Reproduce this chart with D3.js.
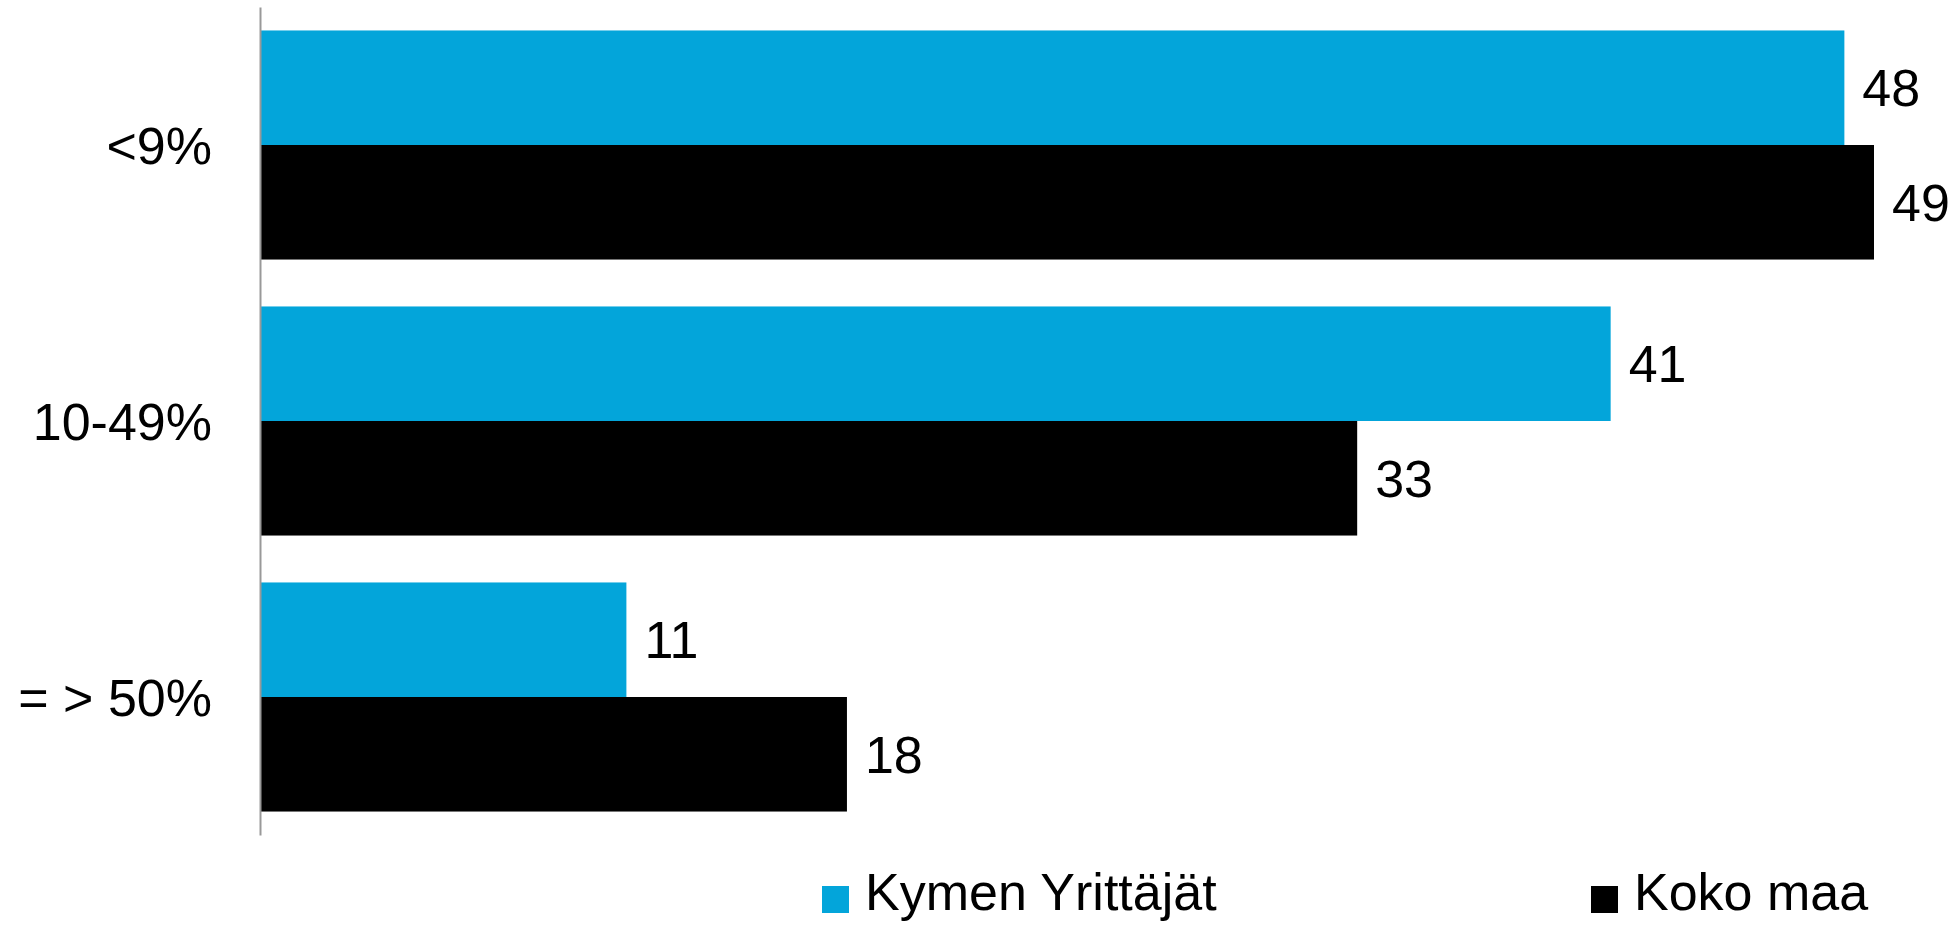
<!DOCTYPE html>
<html>
<head>
<meta charset="utf-8">
<script src="https://cdn.jsdelivr.net/npm/d3@7"></script>
<style>
  body { margin: 0; background: #fff; }
  svg { display: block; font-family: "Liberation Sans", Arial, sans-serif; }
</style>
</head>
<body>
<div id="chart"></div>
<script>
const categories = ["<9%", "10-49%", "= > 50%"];
const seriesNames = ["Kymen Yrittäjät", "Koko maa"];
// bar lengths; labels show them rounded
const kymenValues = [48.1, 41.0, 11.1];
const kokoValues = [49.0, 33.3, 17.8];
const seriesColors = ["#03a5da", "#000000"];

const width = 1955;
const height = 926;
const margin = { top: 7, right: 81, bottom: 91, left: 261 };

const svg = d3
  .select("#chart")
  .append("svg")
  .attr("width", width)
  .attr("height", height);

// one band per category, two bars inside
const y = d3
  .scaleBand()
  .domain(categories)
  .range([margin.top, height - margin.bottom])
  .paddingInner(0.17)
  .paddingOuter(0.085);

const ySeries = d3
  .scaleBand()
  .domain(seriesNames)
  .range([0, y.bandwidth()]);

const x = d3
  .scaleLinear()
  .domain([0, 49])
  .range([margin.left, width - margin.right]);

const rows = categories.map((c, i) => ({
  category: c,
  values: [
    { name: seriesNames[0], value: kymenValues[i] },
    { name: seriesNames[1], value: kokoValues[i] }
  ]
}));

const color = d3.scaleOrdinal().domain(seriesNames).range(seriesColors);

const group = svg
  .append("g")
  .selectAll("g")
  .data(rows)
  .join("g")
  .attr("transform", (d) => `translate(0,${y(d.category)})`);

group
  .selectAll("rect")
  .data((d) => d.values)
  .join("rect")
  .attr("x", x(0))
  .attr("y", (d) => ySeries(d.name))
  .attr("width", (d) => x(d.value) - x(0))
  .attr("height", ySeries.bandwidth())
  .attr("fill", (d) => color(d.name));

// value labels
group
  .selectAll("text")
  .data((d) => d.values)
  .join("text")
  .attr("x", (d) => x(d.value) + 18)
  .attr("y", (d) => ySeries(d.name) + ySeries.bandwidth() / 2)
  .attr("dy", "0.36em")
  .style("font-size", "52px")
  .attr("fill", "#000")
  .text((d) => d3.format(".0f")(d.value));

// category axis
const yAxis = svg
  .append("g")
  .attr("transform", `translate(${margin.left - 1},0)`)
  .call(d3.axisLeft(y).tickSize(0).tickPadding(48));

yAxis.select(".domain").attr("stroke", "#999").attr("stroke-width", 2);
yAxis
  .selectAll("text")
  .style("font-size", "52px")
  .style("font-family", "'Liberation Sans', Arial, sans-serif")
  .attr("fill", "#000")
  .attr("dy", "0.36em");

// legend
const legendX = [822, 1591];
const legend = svg
  .append("g")
  .selectAll("g")
  .data(seriesNames)
  .join("g")
  .attr("transform", (d, i) => `translate(${legendX[i]},886)`);

legend
  .append("rect")
  .attr("width", 27)
  .attr("height", 27)
  .attr("fill", (d) => color(d));

legend
  .append("text")
  .attr("x", 43)
  .attr("y", 24)
  .style("font-size", "52px")
  .attr("fill", "#000")
  .text((d) => d);
</script>
</body>
</html>
